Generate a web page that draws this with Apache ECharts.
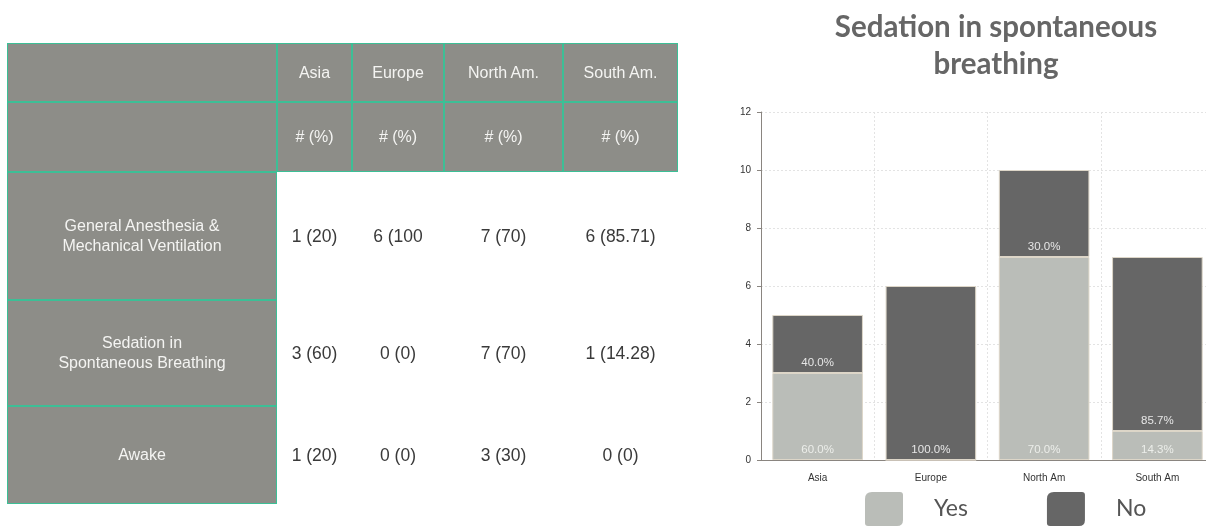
<!DOCTYPE html>
<html>
<head>
<meta charset="utf-8">
<script src="https://cdn.jsdelivr.net/npm/echarts@6/dist/echarts.min.js"></script>
<style>
  html, body { margin: 0; padding: 0; background: #fff; }
  #wrap { position: relative; width: 1206px; height: 527px; overflow: hidden; }
  #chart { position: absolute; left: 0; top: 0; width: 1230px; height: 527px; }
  #table {
    position: absolute; left: 7px; top: 43px; z-index: 2;
    display: grid;
    grid-template-columns: 270px 75px 92px 119px 115px;
    grid-template-rows: 59px 70px 128px 106px 98px;
    font-family: "Liberation Sans", Arial, sans-serif;
  }
  #table .cell {
    display: flex; align-items: center; justify-content: center; text-align: center;
    box-sizing: border-box;
  }
  #table .head {
    background: #8d8d88; color: #f4f4f2; border: 1px solid #3cbf96; font-size: 16px;
  }
  #table .rowlabel {
    background: #8d8d88; color: #f4f4f2; border: 1px solid #3cbf96; font-size: 16px; line-height: 20px;
  }
  #table .value { color: #3a3a3a; font-size: 17.5px; }
</style>
</head>
<body>
<div id="wrap">
  <div id="chart"></div>
  <div id="table"></div>
</div>
<script>
// Regions shown in the table and on the chart
var tableRegions = ['Asia', 'Europe', 'North Am.', 'South Am.'];
var unitLabel = '# (%)';
var rowLabels = ['General Anesthesia &\nMechanical Ventilation', 'Sedation in\nSpontaneous Breathing', 'Awake'];
// Cell text per row, one entry per region
var rowGeneral = ['1 (20)', '6 (100', '7 (70)', '6 (85.71)'];
var rowSedation = ['3 (60)', '0 (0)', '7 (70)', '1 (14.28)'];
var rowAwake = ['1 (20)', '0 (0)', '3 (30)', '0 (0)'];

// Chart data: patients sedated in spontaneous breathing (Yes) vs not (No)
var chartCategories = ['Asia', 'Europe', 'North Am', 'South Am'];
var yesValues = [3, 0, 7, 1];
var noValues = [2, 6, 3, 6];
var yTicks = { min: 0, max: 12, interval: 2 };

// ---- table ----
(function buildTable() {
  var table = document.getElementById('table');
  function add(cls, text) {
    var d = document.createElement('div');
    d.className = 'cell ' + cls;
    d.innerHTML = text.split('\n').join('<br>');
    table.appendChild(d);
  }
  add('head', '');
  tableRegions.forEach(function (r) { add('head', r); });
  add('head', '');
  tableRegions.forEach(function () { add('head', unitLabel); });
  [rowGeneral, rowSedation, rowAwake].forEach(function (row, i) {
    add('rowlabel', rowLabels[i]);
    row.forEach(function (v) { add('value', v); });
  });
})();

// ---- chart ----
var chart = echarts.init(document.getElementById('chart'), null, { renderer: 'canvas' });

function share(own, other, idx) {
  var total = own[idx] + other[idx];
  if (!own[idx] || !total) return '';
  return (own[idx] / total * 100).toFixed(1) + '%';
}

var legendIcon = 'path://M7,0 H35 Q38,0 38,3 V28 Q38,34 32,34 H3 Q0,34 0,31 V7 Q0,0 7,0 Z';

chart.setOption({
  animation: false,
  title: {
    text: 'Sedation in spontaneous\nbreathing',
    left: 991,
    top: 4,
    textAlign: 'center',
    textStyle: {
      fontFamily: 'Lato',
      fontWeight: 'bold',
      fontSize: 29.5,
      lineHeight: 37,
      color: '#666666'
    }
  },
  legend: {
    data: ['Yes', 'No'],
    left: 860,
    top: 487,
    itemWidth: 38,
    itemHeight: 34,
    itemGap: 79,
    icon: legendIcon,
    itemStyle: { borderWidth: 0 },
    textStyle: {
      fontFamily: 'Lato',
      fontSize: 23,
      color: '#555555',
      padding: [9, 0, 0, 26]
    }
  },
  grid: { left: 761, top: 112, width: 453, height: 348, containLabel: false },
  xAxis: {
    type: 'category',
    data: chartCategories,
    axisLine: { lineStyle: { color: '#8a8580', width: 1 } },
    axisTick: { alignWithLabel: true, length: 4, lineStyle: { color: '#8a8580' } },
    axisLabel: { color: '#333', fontSize: 10, margin: 13, fontFamily: 'Liberation Sans' },
    splitLine: { show: true, lineStyle: { color: '#e3e3e3', type: [2, 2] } }
  },
  yAxis: {
    type: 'value',
    min: yTicks.min,
    max: yTicks.max,
    interval: yTicks.interval,
    axisLine: { show: true, lineStyle: { color: '#8a8580', width: 1 } },
    axisTick: { show: true, length: 4, lineStyle: { color: '#8a8580' } },
    axisLabel: { color: '#333', fontSize: 10, margin: 10, fontFamily: 'Liberation Sans' },
    splitLine: { show: true, lineStyle: { color: '#e3e3e3', type: [2, 2] } }
  },
  series: [
    {
      name: 'Yes',
      type: 'bar',
      stack: 'total',
      data: yesValues,
      barCategoryGap: '20%',
      itemStyle: { color: '#babdb8', borderColor: '#ddd6c8', borderWidth: 1 },
      label: {
        show: true,
        position: 'insideBottom',
        distance: 4,
        color: '#eceeea',
        fontSize: 11.5,
        fontFamily: 'Liberation Sans',
        formatter: function (p) { return share(yesValues, noValues, p.dataIndex); }
      }
    },
    {
      name: 'No',
      type: 'bar',
      stack: 'total',
      data: noValues,
      barCategoryGap: '20%',
      itemStyle: { color: '#666666', borderColor: '#ddd6c8', borderWidth: 1 },
      label: {
        show: true,
        position: 'insideBottom',
        distance: 4,
        color: '#e6e6e6',
        fontSize: 11.5,
        fontFamily: 'Liberation Sans',
        formatter: function (p) { return share(noValues, yesValues, p.dataIndex); }
      }
    }
  ]
});
</script>
</body>
</html>
